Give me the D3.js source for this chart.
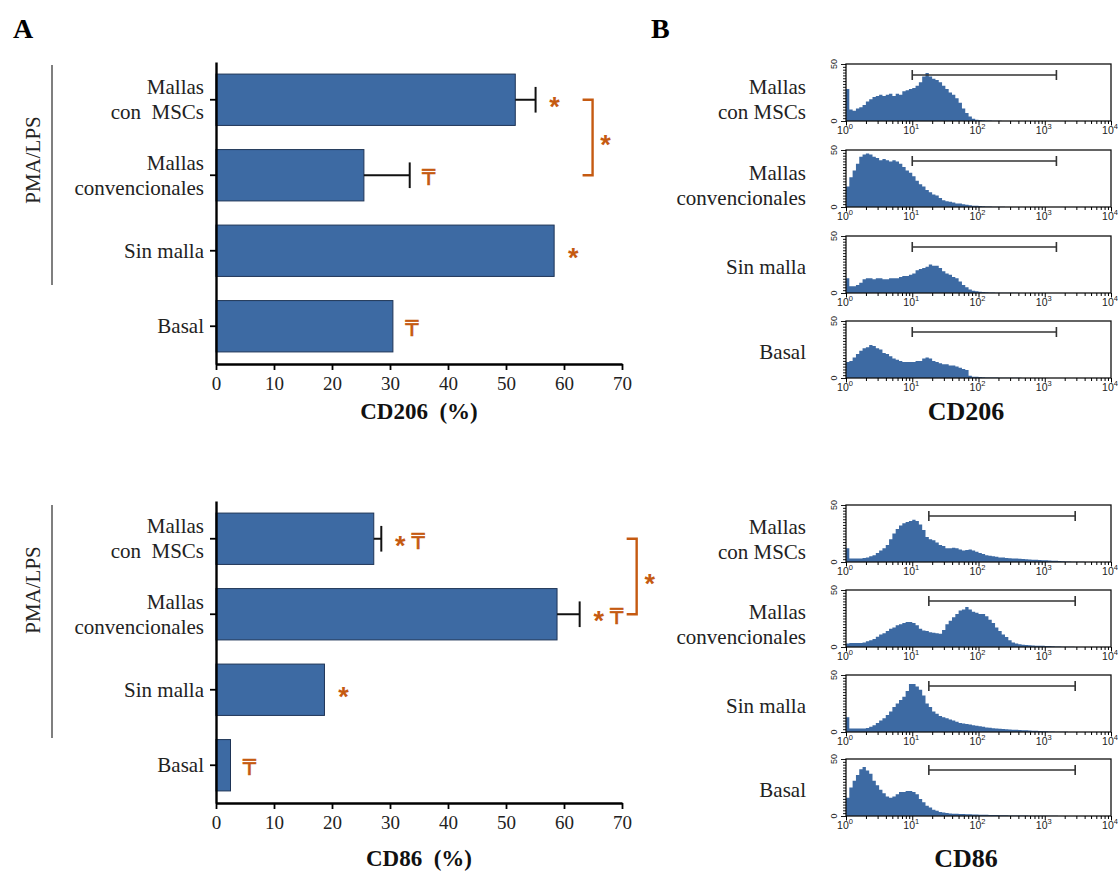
<!DOCTYPE html>
<html>
<head>
<meta charset="utf-8">
<script src="https://cdn.jsdelivr.net/npm/d3@7"></script>
<style>
  body { margin: 0; background: #fff; }
  svg { display: block; }
</style>
</head>
<body>
<svg id="fig" width="1118" height="883"></svg>
<script>
// ---------- data ----------
const groups = ["Mallas con MSCs", "Mallas convencionales", "Sin malla", "Basal"];
const groupLines = [["Mallas", "con  MSCs"], ["Mallas", "convencionales"], ["Sin malla"], ["Basal"]];
const histLines = [["Mallas", "con MSCs"], ["Mallas", "convencionales"], ["Sin malla"], ["Basal"]];
const pctTicks = [0, 10, 20, 30, 40, 50, 60, 70];

// CD206 positive cells (%) and upper error
const cd206Pct = [51.6, 25.5, 58.3, 30.5];
const cd206Err = [3.5, 7.9, 0, 0];
const cd206Marks = [["*"], ["₸"], ["*"], ["₸"]];
const cd206Bracket = ["Mallas con MSCs", "Mallas convencionales"];

// CD86 positive cells (%) and upper error
const cd86Pct = [27.2, 58.8, 18.7, 2.5];
const cd86Err = [1.3, 3.9, 0, 0];
const cd86Marks = [["*", "₸"], ["*", "₸"], ["*"], ["₸"]];
const cd86Bracket = ["Mallas con MSCs", "Mallas convencionales"];

// Flow cytometry histograms: counts per channel, 20 channels per decade (10^0 .. 10^4)
const cd206HistMSC = [
  28, 10, 9, 11, 12, 14, 17, 19, 21, 22,
  23, 22, 23, 24, 22, 24, 23, 26, 27, 28,
  29, 31, 34, 39, 42, 39, 37, 36, 34, 31,
  28, 25, 23, 20, 16, 11, 7, 4, 2, 1,
  0.8, 0.6, 0.5, 0.4, 0.3, 0.2, 0.2, 0.1, 0.1, 0,
  0, 0, 0, 0, 0, 0, 0, 0, 0, 0,
  0, 0, 0, 0, 0, 0, 0, 0, 0, 0,
  0, 0, 0, 0, 0, 0, 0, 0, 0, 0];
const cd206HistConv = [
  18, 26, 32, 38, 44, 46, 47, 46, 44, 43,
  41, 42, 41, 40, 41, 40, 38, 35, 32, 30,
  27, 23, 20, 18, 15, 13, 11, 10, 8, 6,
  5, 4.5, 4, 3, 3, 2.4, 2, 1.5, 1.2, 1,
  0.8, 0.6, 0.5, 0.4, 0.3, 0.3, 0.2, 0.2, 0.1, 0.1,
  0, 0, 0, 0, 0, 0, 0, 0, 0, 0,
  0, 0, 0, 0, 0, 0, 0, 0, 0, 0,
  0, 0, 0, 0, 0, 0, 0, 0, 0, 0];
const cd206HistSin = [
  13, 6, 6, 7, 9, 12, 13, 13, 12, 13,
  13, 12, 12, 13, 13, 13, 14, 15, 15, 16,
  17, 20, 21, 22, 23, 25, 24, 24, 22, 19,
  17, 16, 14, 13, 10, 7, 5, 3, 2, 1.5,
  1, 0.8, 0.6, 0.5, 0.4, 0.3, 0.3, 0.3, 0.2, 0.2,
  0.2, 0.2, 0.1, 0.1, 0.1, 0.1, 0, 0, 0, 0,
  0, 0, 0, 0, 0, 0, 0, 0, 0, 0,
  0, 0, 0, 0, 0, 0, 0, 0, 0, 0];
const cd206HistBasal = [
  14, 15, 18, 21, 24, 26, 27, 29, 28, 26,
  25, 22, 21, 19, 17, 16, 15, 14, 14, 14,
  14, 15, 15, 17, 18, 17, 15, 14, 13, 12,
  12, 11, 11, 10, 9, 8, 7, 2, 1.2, 1,
  0.8, 0.6, 0.5, 0.5, 0.4, 0.4, 0.3, 0.3, 0.3, 0.2,
  0.2, 0.2, 0.2, 0.1, 0.1, 0.1, 0.1, 0.1, 0, 0,
  0, 0, 0, 0, 0, 0, 0, 0, 0, 0,
  0, 0, 0, 0, 0, 0, 0, 0, 0, 0];

const cd86HistMSC = [
  12, 3, 3, 3, 3, 3.5, 4, 5, 6, 8,
  10, 12, 15, 20, 25, 29, 32, 34, 35, 36,
  37, 36, 33, 28, 22, 20, 19, 17, 15, 14,
  12, 12, 12.5, 12, 11, 10, 10.5, 11, 10, 9,
  8, 7, 6, 5.5, 5, 4.5, 4, 4, 3.5, 3.3,
  3, 3, 2.8, 2.6, 2.4, 2.2, 2, 2, 1.8, 1.6,
  1.5, 1.3, 1.1, 1, 0.8, 0.6, 0.5, 0.4, 0.3, 0.3,
  0.2, 0.2, 0.1, 0.1, 0.1, 0, 0, 0, 0, 0];
const cd86HistConv = [
  3, 3.5, 3.5, 3.5, 3.5, 4, 5, 6, 7, 9,
  11, 12, 14, 16, 17, 19, 20, 21, 22, 22,
  21, 19, 16, 14.5, 14, 13, 12.5, 12, 11.6, 15,
  20, 23, 26, 29, 32, 33, 35, 33, 31, 30,
  29, 29, 27, 24, 21, 17, 14, 11, 8.7, 6,
  4, 3, 2.5, 2, 1.7, 1.5, 1.3, 1.2, 1.1, 1,
  0.9, 0.8, 0.6, 0.5, 0.4, 0.3, 0.3, 0.2, 0.2, 0.1,
  0, 0, 0, 0, 0, 0, 0, 0, 0, 0];
const cd86HistSin = [
  13, 3, 3, 3, 3, 3, 3.5, 4.5, 6, 8,
  10, 12, 15, 18, 22, 25, 28, 31, 36, 42,
  42, 40, 37, 32, 25, 22, 18, 16, 14, 13,
  12, 11, 10, 9, 8, 7.4, 7, 6.5, 6, 5.5,
  5, 4.5, 4, 3.7, 3.3, 3, 2.8, 2.6, 2.4, 2.2,
  2, 2, 1.8, 1.6, 1.5, 1.4, 1.2, 1, 0.8, 0.7,
  0.6, 0.5, 0.4, 0.3, 0.3, 0.2, 0.2, 0.1, 0.1, 0.1,
  0, 0, 0, 0, 0, 0, 0, 0, 0, 0];
const cd86HistBasal = [
  16, 25, 31, 36, 41, 43, 40, 37, 31, 27,
  23, 20, 17, 16, 17, 19, 21, 21, 22, 22,
  21, 19, 15, 12, 9, 7.5, 5.5, 4.5, 3.5, 3,
  2.6, 2.3, 2, 2, 1.8, 1.7, 1.6, 1.5, 1.4, 1.3,
  1.2, 1.1, 1, 0.9, 0.9, 0.8, 0.7, 0.6, 0.6, 0.5,
  0.5, 0.5, 0.4, 0.4, 0.4, 0.3, 0.3, 0.3, 0.3, 0.2,
  0.2, 0.2, 0.2, 0.2, 0.1, 0.1, 0.1, 0.1, 0, 0,
  0, 0, 0, 0, 0, 0, 0, 0, 0, 0];

const cd206Gate = [10, 1500];
const cd86Gate = [17.8, 2880];
const histYTicks = [0, 50];
const decadeTicks = [1, 10, 100, 1000, 10000];

// ---------- style ----------
const BLUE = "#3d6aa3";
const EDGE = "#1e3456";
const ORANGE = "#c55a11";
const SERIF = "'Liberation Serif','Times New Roman',serif";
const SANS = "'Liberation Sans',Arial,sans-serif";

const svg = d3.select("#fig");

// panel letters
svg.append("text").attr("x", 13).attr("y", 38).text("A")
  .attr("font-family", SERIF).attr("font-weight", "bold").attr("font-size", 28);
svg.append("text").attr("x", 651).attr("y", 38).text("B")
  .attr("font-family", SERIF).attr("font-weight", "bold").attr("font-size", 28);

// ---------- horizontal bar chart ----------
function barPanel(opt) {
  const g = svg.append("g");
  const x = d3.scaleLinear().domain([0, 70]).range([216, 622]);
  const y = d3.scaleBand().domain(groups).range([opt.top, opt.bottom])
    .paddingInner(0.32).paddingOuter(0.16);
  const bw = y.bandwidth();
  const cy = d => y(d) + bw / 2;

  const rows = groups.map((k, i) => ({ key: k, v: opt.values[i], e: opt.errors[i], marks: opt.marks[i], lines: groupLines[i] }));

  g.selectAll("rect.bar").data(rows).join("rect").attr("class", "bar")
    .attr("x", x(0)).attr("y", d => y(d.key))
    .attr("width", d => x(d.v) - x(0)).attr("height", bw)
    .attr("fill", BLUE).attr("stroke", EDGE).attr("stroke-width", 1);

  // error bars
  const eb = rows.filter(d => d.e > 0);
  g.selectAll("line.err").data(eb).join("line").attr("class", "err")
    .attr("x1", d => x(d.v)).attr("x2", d => x(d.v + d.e))
    .attr("y1", d => cy(d.key)).attr("y2", d => cy(d.key))
    .attr("stroke", "#111").attr("stroke-width", 2);
  g.selectAll("line.cap").data(eb).join("line").attr("class", "cap")
    .attr("x1", d => x(d.v + d.e)).attr("x2", d => x(d.v + d.e))
    .attr("y1", d => cy(d.key) - bw * 0.25).attr("y2", d => cy(d.key) + bw * 0.25)
    .attr("stroke", "#111").attr("stroke-width", 2);

  // axes
  const xa = g.append("g").attr("transform", `translate(0,${opt.bottom})`)
    .call(d3.axisBottom(x).tickValues(pctTicks).tickSize(6).tickSizeOuter(0).tickPadding(7));
  xa.select(".domain").attr("stroke-width", 2.4);
  xa.selectAll(".tick line").attr("stroke-width", 1.8);
  xa.selectAll("text").attr("font-family", SERIF).attr("font-size", 19).attr("fill", "#222");

  const ya = g.append("g").attr("transform", `translate(${x(0)},0)`)
    .call(d3.axisLeft(y).tickSize(6).tickSizeOuter(0).tickFormat(""));
  ya.select(".domain").attr("stroke-width", 2.4);
  ya.selectAll(".tick line").attr("stroke-width", 1.8);

  // category labels
  rows.forEach(d => {
    const n = d.lines.length;
    d.lines.forEach((t, j) => {
      g.append("text").attr("x", 204).attr("y", cy(d.key) + (j - (n - 1) / 2) * 25 + 7)
        .attr("text-anchor", "end").attr("font-family", SERIF).attr("font-size", 21)
        .attr("fill", "#222").style("white-space", "pre").text(t);
    });
  });

  // significance marks after each bar / error bar
  rows.forEach(d => {
    const end = x(d.v + d.e);
    d.marks.forEach((m, j) => {
      const mx = end + 19 + j * 18;
      if (m === "*") {
        g.append("text").attr("x", mx).attr("y", cy(d.key) + 16).attr("text-anchor", "middle")
          .attr("font-family", SANS).attr("font-weight", "bold").attr("font-size", 27)
          .attr("fill", ORANGE).text(m);
      } else {
        g.append("text").attr("x", mx).attr("y", cy(d.key) + 10).attr("text-anchor", "middle")
          .attr("font-family", "'DejaVu Sans','Noto Sans',sans-serif")
          .attr("font-size", 21).attr("fill", ORANGE)
          .attr("stroke", ORANGE).attr("stroke-width", 0.6).text(m);
      }
    });
  });

  // bracket comparing two groups
  const [a, b] = opt.bracket;
  const ia = groups.indexOf(a), ib = groups.indexOf(b);
  const bx = x(Math.max(rows[ia].v + rows[ia].e, rows[ib].v + rows[ib].e)) + 57;
  const y1 = cy(a), y2 = cy(b);
  g.append("path").attr("d", `M${bx - 10},${y1}H${bx}V${y2}H${bx - 10}`)
    .attr("fill", "none").attr("stroke", ORANGE).attr("stroke-width", 2.4);
  g.append("text").attr("x", bx + 13).attr("y", (y1 + y2) / 2 + 16).attr("text-anchor", "middle")
    .attr("font-family", SANS).attr("font-weight", "bold").attr("font-size", 27)
    .attr("fill", ORANGE).text("*");

  // treatment group bracket
  g.append("line").attr("x1", 52).attr("x2", 52).attr("y1", opt.sepTop).attr("y2", opt.sepBottom)
    .attr("stroke", "#555").attr("stroke-width", 1.5);
  g.append("text").attr("transform", `translate(40,${opt.sepLabelY}) rotate(-90)`)
    .attr("text-anchor", "middle").attr("font-family", SERIF).attr("font-size", 21)
    .attr("fill", "#222").text("PMA/LPS");

  // axis title
  g.append("text").attr("x", 419).attr("y", opt.titleY).attr("text-anchor", "middle")
    .attr("font-family", SERIF).attr("font-weight", "bold").attr("font-size", 23)
    .attr("fill", "#111").style("white-space", "pre").text(opt.title);
}

barPanel({ top: 62, bottom: 364, values: cd206Pct, errors: cd206Err, marks: cd206Marks,
  bracket: cd206Bracket, sepTop: 65, sepBottom: 285, sepLabelY: 160, title: "CD206  (%)", titleY: 419 });
barPanel({ top: 501, bottom: 803, values: cd86Pct, errors: cd86Err, marks: cd86Marks,
  bracket: cd86Bracket, sepTop: 505, sepBottom: 738, sepLabelY: 590, title: "CD86  (%)", titleY: 866 });

// ---------- histogram column ----------
function histPanel(opt) {
  const g = svg.append("g");
  const x = d3.scaleLog().domain([1, 1e4]).range([846, 1111]);
  opt.series.forEach((vals, i) => {
    const top = opt.tops[i], bottom = top + 57;
    const y = d3.scaleLinear().domain([0, 50]).range([bottom, top]);
    const pts = vals.map((v, j) => [Math.pow(10, j / 20), v]);
    pts.push([1e4, vals[vals.length - 1]]);
    const area = d3.area().x(d => x(d[0])).y0(bottom).y1(d => y(Math.min(d[1], 50)))
      .curve(d3.curveStepAfter);
    g.append("path").attr("d", area(pts)).attr("fill", BLUE);

    g.append("rect").attr("x", 846).attr("y", top).attr("width", 265).attr("height", 57)
      .attr("fill", "none").attr("stroke", "#111").attr("stroke-width", 1.3);

    // log x axis with minor ticks
    const xa = g.append("g").attr("transform", `translate(0,${bottom})`)
      .call(d3.axisBottom(x).tickValues(x.ticks()).tickSize(3).tickSizeOuter(0).tickFormat(""));
    xa.select(".domain").remove();
    xa.selectAll(".tick line").attr("stroke-width", 1)
      .attr("y2", d => decadeTicks.includes(d) ? 4.5 : 3);
    decadeTicks.forEach((t, k) => {
      const lab = g.append("text").attr("x", x(t) - 1).attr("y", bottom + 13)
        .attr("text-anchor", "middle").attr("font-family", SANS).attr("font-size", 10.5).attr("fill", "#222");
      lab.append("tspan").text("10");
      lab.append("tspan").attr("dy", -5).attr("font-size", 7.5).text(String(k));
    });

    // count axis: ruler of small ticks with 0 and 50 labels
    const ya = g.append("g").attr("transform", "translate(846,0)")
      .call(d3.axisLeft(y).tickValues(d3.range(0, 50.1, 2.5)).tickSize(3).tickSizeOuter(0).tickFormat(""));
    ya.select(".domain").remove();
    ya.selectAll(".tick line").attr("stroke-width", 0.9)
      .attr("x2", d => histYTicks.includes(d) ? -5 : -3);
    histYTicks.forEach(t => {
      g.append("text").attr("transform", `translate(837,${y(t)}) rotate(-90)`)
        .attr("text-anchor", "middle").attr("font-family", SANS).attr("font-size", 9).attr("fill", "#222")
        .text(String(t));
    });

    // marker gate
    const gy = top + 11;
    const [g0, g1] = opt.gate;
    g.append("path").attr("d",
      `M${x(g0)},${gy}H${x(g1)}M${x(g0)},${gy - 5}V${gy + 5}M${x(g1)},${gy - 5}V${gy + 5}`)
      .attr("fill", "none").attr("stroke", "#333").attr("stroke-width", 1.6);

    // group label
    const lines = histLines[i];
    const n = lines.length;
    const cy = top + 28.5 + (n > 1 ? opt.twoLineShift : 2);
    lines.forEach((t, j) => {
      g.append("text").attr("x", 806).attr("y", cy + (j - (n - 1) / 2) * 25 + 7)
        .attr("text-anchor", "end").attr("font-family", SERIF).attr("font-size", 21)
        .attr("fill", "#222").text(t);
    });
  });
  g.append("text").attr("x", 966).attr("y", opt.titleY).attr("text-anchor", "middle")
    .attr("font-family", SERIF).attr("font-weight", "bold").attr("font-size", 26)
    .attr("fill", "#111").text(opt.title);
}

histPanel({ tops: [64, 150, 236, 321], series: [cd206HistMSC, cd206HistConv, cd206HistSin, cd206HistBasal],
  gate: cd206Gate, twoLineShift: 7, title: "CD206", titleY: 420 });
histPanel({ tops: [505, 590, 675, 759], series: [cd86HistMSC, cd86HistConv, cd86HistSin, cd86HistBasal],
  gate: cd86Gate, twoLineShift: 6, title: "CD86", titleY: 867 });
</script>
</body>
</html>
